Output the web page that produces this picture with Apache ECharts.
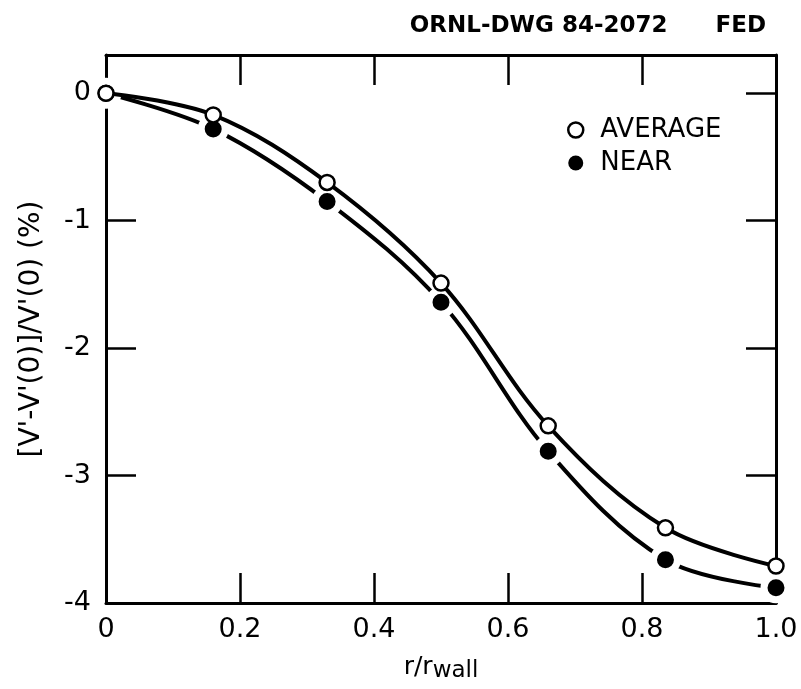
<!DOCTYPE html>
<html>
<head>
<meta charset="utf-8">
<script src="https://cdn.jsdelivr.net/npm/echarts@6/dist/echarts.min.js"></script>
<style>
  html, body { margin: 0; padding: 0; background: #fff; }
  #main { width: 801px; height: 689px; }
</style>
</head>
<body>
<div id="main"></div>
<script>
// r/r_wall positions of the measurements
var radius = [0, 0.16, 0.33, 0.5, 0.66, 0.835, 1.0];
// relative change in percent
var average = [0, -0.17, -0.70, -1.49, -2.61, -3.41, -3.71];
var near = [0, -0.28, -0.85, -1.64, -2.81, -3.66, -3.88];
var xTicks = [0.2, 0.4, 0.6, 0.8];
var xLabels = [0, 0.2, 0.4, 0.6, 0.8, 1.0];
var yLabels = [0, -1, -2, -3, -4];
var yTicksLeft = [-1, -2, -3];
var yTicksRight = [0, -1, -2, -3];

var font = "DejaVu Sans";

function pairs(ys) {
  return radius.map(function (x, i) { return [x, ys[i]]; });
}

var chart = echarts.init(document.getElementById("main"));

var axisLine = { show: true, onZero: false, lineStyle: { color: "#000", width: 3 } };

var option = {
  animation: false,
  textStyle: { fontFamily: font, color: "#000" },
  title: {
    text: "ORNL-DWG 84-2072      FED",
    right: 30,
    top: 10,
    textStyle: { fontFamily: font, fontSize: 23, fontWeight: "bold", color: "#000" }
  },
  legend: {
    orient: "vertical",
    left: 562,
    top: 112,
    itemWidth: 15,
    itemHeight: 15,
    itemGap: 7,
    textStyle: { fontFamily: font, fontSize: 26, color: "#000", padding: [0, 0, 0, 12] },
    data: [
      { name: "AVERAGE", icon: "circle", itemStyle: { color: "#fff", borderColor: "#000", borderWidth: 2.5 } },
      { name: "NEAR", icon: "circle", itemStyle: { color: "#000", borderWidth: 0 } }
    ]
  },
  grid: { left: 106, right: 25, top: 55, bottom: 86 },
  xAxis: [
    {
      type: "value",
      min: 0,
      max: 1,
      position: "bottom",
      name: "{a|r/r}{b|wall}",
      nameLocation: "middle",
      nameGap: 44,
      nameTextStyle: {
        rich: {
          a: { fontFamily: font, fontSize: 25, color: "#000", verticalAlign: "bottom", lineHeight: 30 },
          b: { fontFamily: font, fontSize: 23, color: "#000", padding: [12, 0, 0, 0], lineHeight: 30 }
        }
      },
      axisLine: axisLine,
      axisTick: { inside: true, length: 30, lineStyle: { color: "#000", width: 2.5 }, customValues: xTicks },
      axisLabel: {
        margin: 13,
        fontSize: 27,
        color: "#000",
        fontFamily: font,
        customValues: xLabels,
        formatter: function (v) { return v === 0 ? "0" : v.toFixed(1); }
      },
      splitLine: { show: false }
    },
    {
      type: "value",
      min: 0,
      max: 1,
      position: "top",
      axisLine: axisLine,
      axisTick: { inside: true, length: 30, lineStyle: { color: "#000", width: 2.5 }, customValues: xTicks },
      axisLabel: { show: false },
      splitLine: { show: false }
    }
  ],
  yAxis: [
    {
      type: "value",
      min: -4,
      max: 0.3,
      position: "left",
      name: "[V'-V'(0)]/V'(0) (%)",
      nameLocation: "middle",
      nameGap: 60,
      nameRotate: 90,
      nameTextStyle: { fontFamily: font, fontSize: 28, color: "#000" },
      axisLine: axisLine,
      axisTick: { inside: true, length: 30, lineStyle: { color: "#000", width: 2.5 }, customValues: yTicksLeft },
      axisLabel: {
        margin: 15,
        fontSize: 27,
        color: "#000",
        fontFamily: font,
        customValues: yLabels,
        formatter: function (v) { return v === 0 ? "0" : "-" + Math.abs(v); }
      },
      splitLine: { show: false }
    },
    {
      type: "value",
      min: -4,
      max: 0.3,
      position: "right",
      axisLine: axisLine,
      axisTick: { inside: true, length: 30, lineStyle: { color: "#000", width: 2.5 }, customValues: yTicksRight },
      axisLabel: { show: false },
      splitLine: { show: false }
    }
  ],
  series: [
    {
      name: "NEAR",
      type: "line",
      z: 2,
      smooth: 0.35,
      data: pairs(near),
      symbol: "circle",
      symbolSize: 24,
      lineStyle: { color: "#000", width: 4 },
      itemStyle: { color: "#000", borderColor: "#fff", borderWidth: 7 }
    },
    {
      name: "AVERAGE",
      type: "line",
      z: 3,
      smooth: 0.35,
      data: pairs(average),
      symbol: "circle",
      symbolSize: 15,
      lineStyle: { color: "#000", width: 4 },
      itemStyle: { color: "#fff", borderColor: "#000", borderWidth: 2.5 }
    }
  ]
};

chart.setOption(option);
</script>
</body>
</html>
